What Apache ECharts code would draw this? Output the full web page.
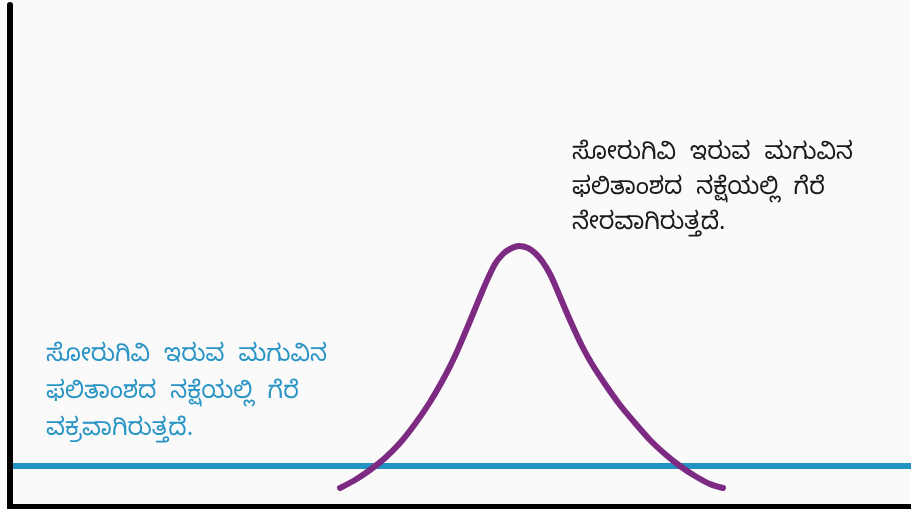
<!DOCTYPE html>
<html>
<head>
<meta charset="utf-8">
<script src="https://cdn.jsdelivr.net/npm/echarts@6/dist/echarts.min.js"></script>
<style>
html,body{margin:0;padding:0;background:#fafafa;}
#c{width:911px;height:509px;}
</style>
</head>
<body>
<div id="c"></div>
<script>
// Bell curve (purple) sampled points
const curveX = [330, 345, 360, 375, 390, 405, 420, 435, 445, 455, 465, 475, 485, 493, 500, 509, 518, 525, 532, 540, 548, 556, 564, 572, 582, 595, 610, 625, 640, 655, 670, 685, 700, 713];
const curveY = [19, 27, 37, 49, 64, 83, 105, 131, 151, 174, 198, 222, 243, 253, 258, 261, 259, 254, 246, 233, 215, 196, 178, 161, 143, 123, 102, 84, 67, 53, 41, 31, 23, 19];
// Flat line (blue)
const flatX = [3, 901];
const flatY = [41, 41];

const rightText = ['ಸೋರುಗಿವಿ  ಇರುವ  ಮಗುವಿನ', 'ಫಲಿತಾಂಶದ  ನಕ್ಷೆಯಲ್ಲಿ  ಗೆರೆ', 'ನೇರವಾಗಿರುತ್ತದೆ.'];
const leftText = ['ಸೋರುಗಿವಿ  ಇರುವ  ಮಗುವಿನ', 'ಫಲಿತಾಂಶದ  ನಕ್ಷೆಯಲ್ಲಿ  ಗೆರೆ', 'ವಕ್ರವಾಗಿರುತ್ತದೆ.'];

const chart = echarts.init(document.getElementById('c'), null, {renderer: 'canvas'});
const fontFam = "'Noto Sans Kannada','Noto Serif Kannada','Noto Sans',sans-serif";
chart.setOption({
  backgroundColor: '#fafafa',
  animation: false,
  grid: {left: 10, right: 0, top: 5, bottom: 2},
  xAxis: {
    type: 'value', min: 0, max: 901,
    axisLine: {show: true, lineStyle: {color: '#000', width: 6}},
    axisTick: {show: false}, axisLabel: {show: false}, splitLine: {show: false}
  },
  yAxis: {
    type: 'value', min: 0, max: 502,
    axisLine: {show: true, lineStyle: {color: '#000', width: 6}},
    axisTick: {show: false}, axisLabel: {show: false}, splitLine: {show: false}
  },
  series: [
    {
      type: 'line', data: flatX.map((x, i) => [x, flatY[i]]),
      symbol: 'none', lineStyle: {color: '#2192c2', width: 6}, z: 2
    },
    {
      type: 'line', data: curveX.map((x, i) => [x, curveY[i]]),
      symbol: 'none', smooth: 0.3,
      lineStyle: {color: '#7d2a83', width: 6, cap: 'round', join: 'round'}, z: 3
    }
  ],
  graphic: [
    {type: 'text', left: 572, top: 139,
     style: {text: rightText.join('\n'), fill: '#1a1a1a', font: '24px ' + fontFam, lineHeight: 35}},
    {type: 'text', left: 46, top: 340,
     style: {text: leftText.join('\n'), fill: '#2a95c5', font: '24px ' + fontFam, lineHeight: 37}}
  ]
});
</script>
</body>
</html>
